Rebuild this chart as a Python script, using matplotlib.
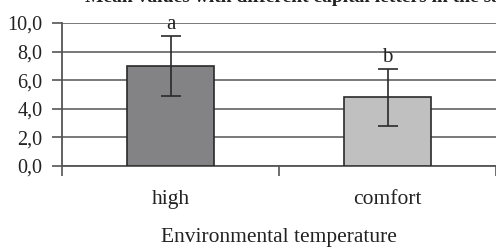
import matplotlib
matplotlib.use("Agg")
import matplotlib.pyplot as plt
import numpy as np

categories = ["high", "comfort"]
means = [7.0, 4.8]
errors = [2.1, 2.0]
letters = ["a", "b"]
colors = ["#838386", "#c0c0c0"]
yticks = [0, 2, 4, 6, 8, 10]
ytick_labels = ["0,0", "2,0", "4,0", "6,0", "8,0", "10,0"]

plt.rcParams['font.family'] = ['Liberation Serif', 'DejaVu Serif']

fig = plt.figure(figsize=(4.96, 2.5), dpi=100)
ax = fig.add_axes([62/496, 1-166/250, 1-62/496, (166-23)/250])

x = np.arange(len(categories)) + 0.5
ax.bar(x, means, width=0.405, color=colors, edgecolor="#2a2a2a", linewidth=1.2, zorder=3)
ax.errorbar(x, means, yerr=errors, fmt="none", ecolor="#2a2a2a", elinewidth=1.2,
            capsize=7, capthick=1.2, zorder=4)
for xi, m, e, l in zip(x, means, errors, letters):
    ax.text(xi, m + e + 0.1, l, ha="center", va="bottom", fontsize=15, color="#222222")

ax.set_xlim(0, 2)
ax.set_ylim(0, 10)
ax.set_yticks(yticks)
ax.set_yticklabels(ytick_labels, fontsize=14.5, color="#222222")
ax.set_xticks([0, 1, 2])
ax.set_xticklabels([])
ax.set_xticks(x, minor=True)
ax.set_xticklabels(categories, minor=True, fontsize=15.5, color="#222222")
ax.tick_params(axis="x", which="minor", length=0, pad=17)
ax.tick_params(axis="x", which="major", length=7, width=1.2, color="#555555", direction="out")
ax.tick_params(axis="y", length=7, width=1.2, color="#555555", pad=7)
ax.grid(axis="y", color="#6e6e6e", linewidth=1.3, zorder=0)
for s in ["top", "right"]:
    ax.spines[s].set_visible(False)
ax.spines["left"].set_color("#555555")
ax.spines["left"].set_linewidth(1.3)
ax.spines["bottom"].set_color("#555555")
ax.spines["bottom"].set_linewidth(1.3)
ax.set_xlabel("Environmental temperature", fontsize=15.5, color="#222222", labelpad=14)

fig.text(85/496, 1.0 + 2/250, "Mean values with different capital letters in the same",
         ha="left", va="center", fontsize=14, fontweight="bold", color="#222222")

fig.savefig("out.png", dpi=100)
